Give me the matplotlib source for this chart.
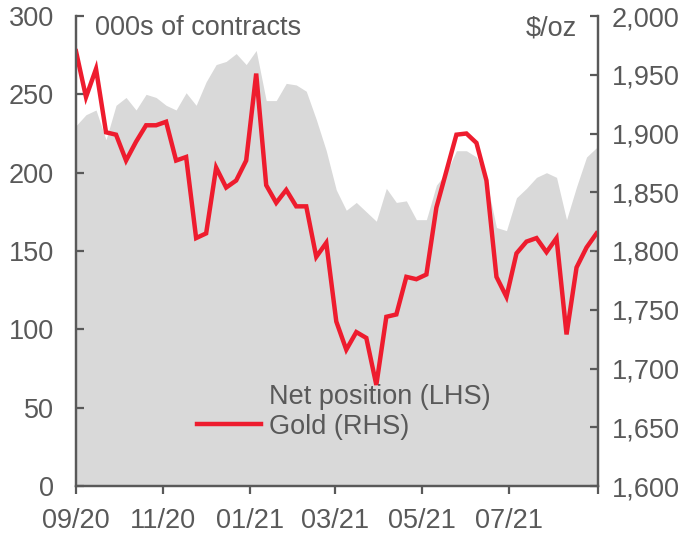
import numpy as np
import pandas as pd
import matplotlib
matplotlib.use("Agg")
import matplotlib.pyplot as plt
import matplotlib.dates as mdates
from matplotlib.lines import Line2D
from matplotlib.patches import Patch

# ---- DATA (weekly) ----
START_DATE = "2020-09-01"
N_WEEKS = 53

net_position = [
    230, 237, 240, 221, 243, 248, 240, 250, 248, 243,
    240, 251, 243, 258, 269, 271, 276, 269, 278, 246,
    246, 257, 256, 252, 234, 214, 189, 176, 181, 175,
    169, 190, 181, 182, 170, 170, 192, 200, 214, 214,
    210, 195, 165, 163, 184, 190, 197, 200, 197, 170,
    191, 210, 216,
]

gold = [
    1970, 1931, 1955, 1901, 1899, 1877, 1893, 1907, 1907, 1910,
    1877, 1880, 1811, 1815, 1871, 1854, 1860, 1877, 1951, 1856,
    1841, 1852, 1838, 1838, 1795, 1807, 1740, 1716, 1731, 1726,
    1686, 1744, 1746, 1778, 1776, 1780, 1837, 1868, 1899, 1900,
    1892, 1860, 1778, 1761, 1798, 1808, 1811, 1799, 1811, 1729,
    1786, 1803, 1815,
]

left_ticks = [0, 50, 100, 150, 200, 250, 300]
right_ticks = [1600, 1650, 1700, 1750, 1800, 1850, 1900, 1950, 2000]
x_tick_dates = ["2020-09-01", "2020-11-01", "2021-01-01", "2021-03-01",
                "2021-05-01", "2021-07-01", "2021-09-01"]
x_tick_labels = ["09/20", "11/20", "01/21", "03/21", "05/21", "07/21", ""]

# ---- STYLE ----
GREY_FILL = "#d9d9d9"
RED = "#ee1c2e"
TXT = "#595959"
FS = 19.5

plt.rcParams["font.family"] = ["Liberation Sans", "DejaVu Sans"]


def main():
    dates = pd.date_range(START_DATE, periods=N_WEEKS, freq="7D")

    fig = plt.figure(figsize=(6.95, 5.37), dpi=100)
    ax = fig.add_axes([76 / 695, 51 / 537, 522 / 695, 470 / 537])
    ax2 = ax.twinx()

    ax.fill_between(dates, 0, net_position, color=GREY_FILL, linewidth=0)
    ax2.plot(dates, gold, color=RED, linewidth=3.2, solid_joinstyle="miter")

    ax.set_xlim(pd.Timestamp("2020-09-01"), pd.Timestamp("2021-09-01"))
    ax.set_ylim(0, 300)
    ax2.set_ylim(1600, 2000)

    ax.set_yticks(left_ticks)
    ax.set_yticklabels([str(v) for v in left_ticks])
    ax2.set_yticks(right_ticks)
    ax2.set_yticklabels([f"{v:,}" for v in right_ticks])
    ax.set_xticks([pd.Timestamp(d) for d in x_tick_dates])
    ax.set_xticklabels(x_tick_labels)

    for a in (ax, ax2):
        a.spines["top"].set_visible(False)
        for s in ("left", "right", "bottom"):
            a.spines[s].set_color(TXT)
            a.spines[s].set_linewidth(1.6)
        a.tick_params(colors=TXT, labelsize=FS, width=1.6, length=6)

    ax.tick_params(axis="y", direction="in", pad=16)
    ax2.tick_params(axis="y", direction="in", pad=10)
    ax.tick_params(axis="x", direction="out", pad=10)

    ax.text(0.036, 0.974, "000s of contracts", transform=ax.transAxes,
            fontsize=FS, color=TXT, va="center", ha="left")
    ax.text(0.96, 0.974, "$/oz", transform=ax.transAxes,
            fontsize=FS, color=TXT, va="center", ha="right")

    handles = [Patch(facecolor=GREY_FILL, edgecolor="none"),
               Line2D([0], [0], color=RED, linewidth=3.2)]
    labels = ["Net position (LHS)", "Gold (RHS)"]
    leg = ax2.legend(handles, labels, loc="center left",
                     bbox_to_anchor=(0.232, 0.158), frameon=False,
                     fontsize=FS, handlelength=2.35, handletextpad=0.3,
                     labelspacing=0.15, borderpad=0, borderaxespad=0)
    for t in leg.get_texts():
        t.set_color(TXT)

    fig.savefig("out.png", dpi=100)
    plt.close(fig)


if __name__ == "__main__":
    main()
